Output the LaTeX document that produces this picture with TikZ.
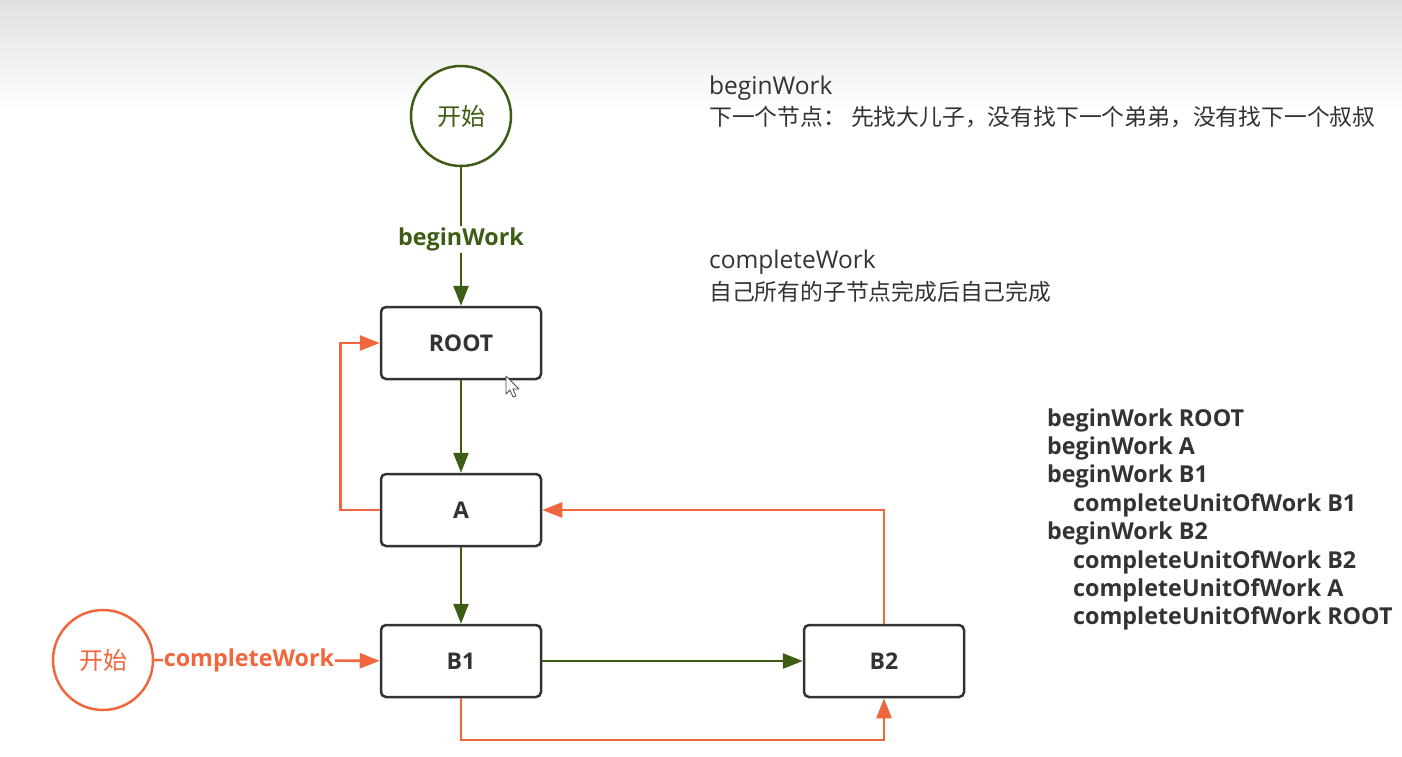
\documentclass[tikz,border=0pt]{standalone}
\usepackage{fontspec}
\setmainfont{Open Sans}
\newfontfamily\cjk{Noto Sans CJK SC}
\usetikzlibrary{arrows.meta}
\definecolor{gr}{HTML}{3D5C14}
\definecolor{rd}{HTML}{F0673D}
\definecolor{tx}{HTML}{333333}
\begin{document}
\begin{tikzpicture}[x=1pt,y=-1pt,
  box/.style={draw=tx, line width=2.5pt, rounded corners=5pt, minimum width=160pt, minimum height=72pt, inner sep=0pt, fill=white, text=tx, font=\fontsize{23}{26}\selectfont\bfseries},
  startc/.style={circle, line width=2.5pt, minimum size=100pt, inner sep=0pt, fill=white, font=\cjk\fontsize{24}{26}\selectfont},
  tip/.style={-{Triangle[length=20pt,width=15pt]}},
  garr/.style={draw=gr, line width=2.6pt, tip},
  rarr/.style={draw=rd, line width=2.6pt, tip},
  lbl/.style={fill=white, inner sep=2pt, font=\fontsize{23.3}{26}\selectfont\bfseries},
  note/.style={anchor=west, inner sep=0pt, text=tx, font=\fontsize{24.5}{28}\selectfont},
  notecn/.style={anchor=west, inner sep=0pt, text=tx, font=\cjk\fontsize{22.8}{28}\selectfont},
  lst/.style={anchor=west, inner sep=0pt, text=tx, font=\fontsize{23.3}{28}\selectfont\bfseries}
]
\useasboundingbox (0,0) rectangle (1402,756);
\fill[white] (0,0) rectangle (1402,756);
\shade[top color=black!12, bottom color=white] (0,0) rectangle (1402,110);

% nodes
\node[startc, draw=gr, text=gr] (s1) at (461,116) {开始};
\node[box] (root) at (461,343) {ROOT};
\node[box] (a) at (461,510) {A};
\node[box] (b1) at (461,661) {B1};
\node[box] (b2) at (884,661) {B2};
\node[startc, draw=rd, text=rd] (s2) at (103,660) {开始};

% green (beginWork) connectors
\draw[garr] (s1) -- node[lbl, text=gr, pos=0.52] {beginWork} (root);
\draw[garr] (root) -- (a);
\draw[garr] (a) -- (b1);
\draw[garr] (b1) -- (b2);

% red (completeWork) connectors
\draw[rarr] (s2) -- node[lbl, text=rd, pos=0.42, inner sep=1pt] {completeWork} (b1);
\draw[rarr] (a.west) -- ++(-39,0) |- (root.west);
\draw[rarr] (b2.north) |- (a.east);
\coordinate (low) at (461,740);
\draw[rarr] (b1.south) -- (low) -| (b2.south);

% cursor
\draw[black!70, fill=white, line width=0.8pt, line join=round]
  (506,376) -- (506,394) -- (510,390) -- (513,397) -- (516,396) -- (513,389) -- (519,389) -- cycle;

% notes
\node[note] (n1) at (709,88) {beginWork};
\node[notecn] (n2) at (709,117) {下一个节点：\ 先找大儿子，没有找下一个弟弟，没有找下一个叔叔};
\node[note] (n3) at (709,262) {completeWork};
\node[notecn] (n4) at (709,292) {自己所有的子节点完成后自己完成};

% list
\node[lst] (l1) at (1047,420) {beginWork ROOT};
\node[lst] (l2) at (1047,448) {beginWork A};
\node[lst] (l3) at (1047,476) {beginWork B1};
\node[lst] (l4) at (1073,505) {completeUnitOfWork B1};
\node[lst] (l5) at (1047,533) {beginWork B2};
\node[lst] (l6) at (1073,562) {completeUnitOfWork B2};
\node[lst] (l7) at (1073,590) {completeUnitOfWork A};
\node[lst] (l8) at (1073,618) {completeUnitOfWork ROOT};
\end{tikzpicture}
\end{document}
